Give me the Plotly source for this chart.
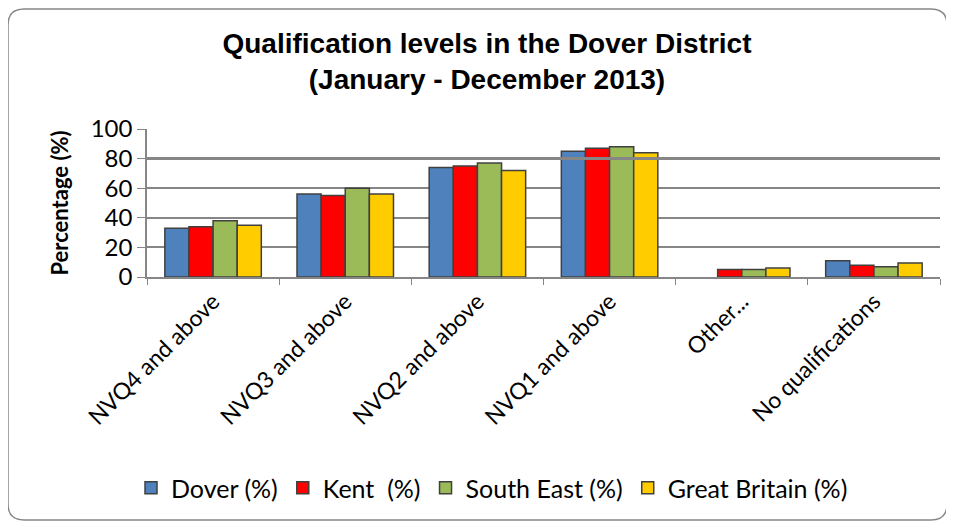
import plotly.graph_objects as go

categories = ["NVQ4 and above", "NVQ3 and above", "NVQ2 and above",
              "NVQ1 and above", "Other...", "No qualifications"]
dover = [33, 56, 74, 85, None, 11]
kent = [34, 55, 75, 87, 5, 8]
south_east = [38, 60, 77, 88, 5, 7]
great_britain = [35, 56, 72, 84, 6, 9.5]

series = [("Dover (%)", dover, "#4f81bd"),
          ("Kent  (%)", kent, "#ff0000"),
          ("South East (%)", south_east, "#9bbb59"),
          ("Great Britain (%)", great_britain, "#ffcc00")]

fig = go.Figure()
for name, vals, col in series:
    fig.add_trace(go.Bar(x=categories, y=vals, name=name, marker_color=col,
                         marker_line=dict(color="#404040", width=1.5)))

# the page body adds an 8px offset, so work in figure pixels = target - 8
OFF = 8
FW, FH = 946, 517
L, R, T, B = 147 - OFF, FW - (940 - OFF), 129 - OFF, FH - (277 - OFF)
W, H = FW - L - R, FH - T - B


def px(x):
    return (x - OFF - L) / W


def py(y):
    return (FH - B - (y - OFF)) / H


x0, x1, y0, y1, r = 8, 947, 9, 520, 16
border = (f"M {px(x0 + r)},{py(y0)} L {px(x1 - r)},{py(y0)} "
          f"Q {px(x1)},{py(y0)} {px(x1)},{py(y0 + r)} "
          f"L {px(x1)},{py(y1 - r)} Q {px(x1)},{py(y1)} {px(x1 - r)},{py(y1)} "
          f"L {px(x0 + r)},{py(y1)} Q {px(x0)},{py(y1)} {px(x0)},{py(y1 - r)} "
          f"L {px(x0)},{py(y0 + r)} Q {px(x0)},{py(y0)} {px(x0 + r)},{py(y0)} Z")

fig.update_layout(
    width=FW, height=FH,
    margin=dict(l=L, r=R, t=T, b=B),
    paper_bgcolor="white", plot_bgcolor="white",
    barmode="group", bargap=0.27, bargroupgap=0,
    font=dict(family="Lato, Liberation Sans, sans-serif", color="black"),
    title=dict(text="<b>Qualification levels in the Dover District<br>(January - December 2013)</b>",
               x=(487 - OFF) / FW, xanchor="center", y=1 - (53 - OFF) / FH,
               yanchor="middle",
               font=dict(family="Liberation Sans, Arial, sans-serif", size=28)),
    xaxis=dict(tickangle=-45, tickfont=dict(size=23), showline=True,
               linecolor="#868686", linewidth=2, ticks="outside",
               tickson="boundaries", tickcolor="#868686", ticklen=6),
    yaxis=dict(range=[0, 100], dtick=20, showgrid=True, gridcolor="#868686",
               gridwidth=1.5, tickfont=dict(size=24), showline=True,
               linecolor="#868686", linewidth=1.5, ticks="outside",
               tickcolor="#868686", ticklen=8, zeroline=False,
               title=dict(text="<b>Percentage (%)</b>", standoff=16,
                          font=dict(size=22))),
    legend=dict(orientation="h", x=px(492), xanchor="center",
                y=py(488), yanchor="middle", font=dict(size=25),
                itemwidth=30, tracegroupgap=0),
    shapes=[dict(type="line", xref="paper", yref="y", x0=0, x1=1, y0=80, y1=80,
                 line=dict(color="#868686", width=3)),
            dict(type="path", xref="paper", yref="paper", path=border,
                 line=dict(color="#868686", width=1.5))],
)

fig.write_html("out.html")
